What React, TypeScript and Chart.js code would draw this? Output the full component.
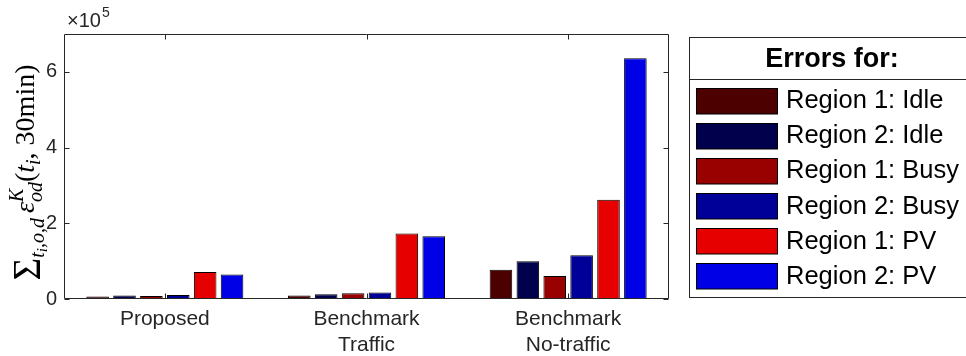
import React, { useEffect, useRef } from 'react';
import { Chart, registerables } from 'chart.js';
Chart.register(...registerables);

// ---------- data ----------
const categories: string[][] = [['Proposed'], ['Benchmark', 'Traffic'], ['Benchmark', 'No-traffic']];
const seriesLabels = ['Region 1: Idle', 'Region 2: Idle', 'Region 1: Busy', 'Region 2: Busy', 'Region 1: PV', 'Region 2: PV'];
const region1Idle = [6400, 9000, 77000];
const region2Idle = [9000, 12500, 100000];
const region1Busy = [8000, 15000, 61000];
const region2Busy = [10700, 17000, 115500];
const region1PV = [71000, 173000, 262000];
const region2PV = [65000, 166000, 636000];
const yTicks = [0, 200000, 400000, 600000];
const yMin = 0;
const yMax = 700000;
const yScaleExponent = 5;
const legendTitle = 'Errors for:';
const seriesColors = ['#4d0000', '#00004d', '#990000', '#000099', '#e60000', '#0000e6'];

const seriesValues = [region1Idle, region2Idle, region1Busy, region2Busy, region1PV, region2PV];

const SANS = '"Liberation Sans", Arial, Helvetica, sans-serif';
const SERIF = '"Liberation Serif", "DejaVu Serif", "Times New Roman", serif';
const AXIS = '#262626';

type Piece = { t: string; size: number; it?: boolean; dy?: number; stack?: Piece[] };

function font(p: Piece) {
  return `${p.it ? 'italic ' : ''}${p.size}px ${SERIF}`;
}

function drawYLabel(ctx: CanvasRenderingContext2D, bx: number, cy: number) {
  const M = 28, S = 20, SS = 15;
  const pieces: Piece[] = [
    { t: '\u03A3', size: 39, dy: 6 },
    { t: 't', size: S, it: true, dy: 10 },
    { t: 'i', size: SS, it: true, dy: 13 },
    { t: ',o,d', size: S, it: true, dy: 10 },
    { t: '  ', size: 10 },
    { t: '\u03B5', size: M, it: true },
    { t: '', size: S, stack: [{ t: 'K', size: S, it: true, dy: -11 }, { t: 'od', size: S, it: true, dy: 8 }] },
    { t: '(', size: M },
    { t: 't', size: M, it: true },
    { t: 'i', size: S, it: true, dy: 6 },
    { t: ', 30min)', size: M },
  ];
  const widthOf = (p: Piece): number => {
    if (p.stack) return Math.max(...p.stack.map(widthOf));
    ctx.font = font(p);
    return ctx.measureText(p.t).width;
  };
  const total = pieces.reduce((s, p) => s + widthOf(p), 0);
  ctx.save();
  ctx.translate(bx, cy);
  ctx.rotate(-Math.PI / 2);
  ctx.fillStyle = '#000';
  ctx.textBaseline = 'alphabetic';
  ctx.textAlign = 'left';
  let x = -total / 2;
  for (const p of pieces) {
    const w = widthOf(p);
    const list = p.stack ? p.stack : [p];
    for (const q of list) {
      ctx.font = font(q);
      ctx.fillText(q.t, x, q.dy || 0);
    }
    x += w;
  }
  ctx.restore();
}

const framePlugin = {
  id: 'matlabFrame',
  afterDatasetsDraw(chart: any) {
    const { ctx, chartArea: a, scales } = chart;
    ctx.save();
    ctx.strokeStyle = AXIS;
    ctx.lineWidth = 1;
    const L = Math.round(a.left) + 0.5;
    const R = Math.round(a.right) - 0.5;
    const T = Math.round(a.top) + 0.5;
    const B = Math.round(a.bottom) - 0.5;
    ctx.beginPath();
    ctx.rect(L, T, R - L, B - T);
    const tl = 5;
    for (let i = 0; i < categories.length; i++) {
      const px = Math.round(scales.x.getPixelForValue(i)) + 0.5;
      ctx.moveTo(px, B); ctx.lineTo(px, B - tl);
      ctx.moveTo(px, T); ctx.lineTo(px, T + tl);
    }
    for (const v of yTicks) {
      const py = Math.round(scales.y.getPixelForValue(v)) + 0.5;
      ctx.moveTo(L, py); ctx.lineTo(L + tl, py);
      ctx.moveTo(R, py); ctx.lineTo(R - tl, py);
    }
    ctx.stroke();

    // exponent label
    ctx.fillStyle = AXIS;
    ctx.textBaseline = 'alphabetic';
    ctx.textAlign = 'left';
    ctx.font = `20px ${SANS}`;
    const base = '\u00D710';
    ctx.fillText(base, a.left + 3, a.top - 7);
    const bw = ctx.measureText(base).width;
    ctx.font = `14px ${SANS}`;
    ctx.fillText(String(yScaleExponent), a.left + 3 + bw + 1, a.top - 17);

    // y label
    drawYLabel(ctx, 34, (a.top + a.bottom) / 2 + 6);
    ctx.restore();
  },
  afterDraw(chart: any) {
    const { ctx } = chart;
    ctx.save();
    const left = 689.5, top = 37.5, right = 975, bottom = 297.5, sep = 79.5;
    ctx.fillStyle = '#fff';
    ctx.fillRect(left, top, right - left, bottom - top);
    ctx.strokeStyle = AXIS;
    ctx.lineWidth = 1;
    ctx.strokeRect(left, top, right - left, bottom - top);
    ctx.beginPath();
    ctx.moveTo(left, sep); ctx.lineTo(right, sep);
    ctx.stroke();
    ctx.fillStyle = '#000';
    ctx.textAlign = 'center';
    ctx.textBaseline = 'middle';
    ctx.font = `bold 27px ${SANS}`;
    ctx.fillText(legendTitle, 832, (top + sep) / 2 + 1);
    ctx.textAlign = 'left';
    ctx.font = `25.5px ${SANS}`;
    const rowTop = 87.5, rowStep = 35.1, sw = 81, sh = 25.5;
    chart.data.datasets.forEach((ds: any, i: number) => {
      const y = rowTop + i * rowStep;
      ctx.fillStyle = ds.backgroundColor;
      ctx.fillRect(696.5, Math.round(y) + 0.5, sw, sh);
      ctx.strokeStyle = '#000';
      ctx.strokeRect(696.5, Math.round(y) + 0.5, sw, sh);
      ctx.fillStyle = '#000';
      ctx.fillText(ds.label, 786, y + sh / 2 + 1);
    });
    ctx.restore();
  },
};

export default function App() {
  const ref = useRef<HTMLCanvasElement | null>(null);
  useEffect(() => {
    if (!ref.current) return;
    const chart = new Chart(ref.current, {
      type: 'bar',
      data: {
        labels: categories,
        datasets: seriesValues.map((vals, i) => ({
          label: seriesLabels[i],
          data: vals,
          backgroundColor: seriesColors[i],
          borderColor: '#000',
          borderWidth: 1,
          borderSkipped: false,
          categoryPercentage: 0.8,
          barPercentage: 0.84,
        })),
      },
      options: {
        animation: false,
        responsive: true,
        maintainAspectRatio: false,
        layout: { padding: { left: 0, right: 297, top: 34, bottom: 0 } },
        plugins: { legend: { display: false }, tooltip: { enabled: false }, title: { display: false } },
        scales: {
          x: {
            type: 'category',
            grid: { display: false, drawTicks: false },
            border: { display: false },
            ticks: {
              color: AXIS,
              font: { family: SANS, size: 21, lineHeight: 1.2 },
              padding: 8,
              autoSkip: false,
              maxRotation: 0,
              minRotation: 0,
            },
            afterFit: (s: any) => { s.height = 57; },
          },
          y: {
            min: yMin,
            max: yMax,
            grid: { display: false, drawTicks: false },
            border: { display: false },
            afterBuildTicks: (s: any) => { s.ticks = yTicks.map((v) => ({ value: v })); },
            ticks: {
              color: AXIS,
              font: { family: SANS, size: 20 },
              padding: 7,
              callback: (v: any) => String(Number(v) / Math.pow(10, yScaleExponent)),
            },
            afterFit: (s: any) => { s.width = 64; },
          },
        },
      },
      plugins: [framePlugin],
    } as any);
    return () => chart.destroy();
  }, []);
  return (
    <div style={{ position: 'absolute', left: 0, top: 0, width: 966, height: 356, background: '#fff' }}>
      <canvas ref={ref} />
    </div>
  );
}
